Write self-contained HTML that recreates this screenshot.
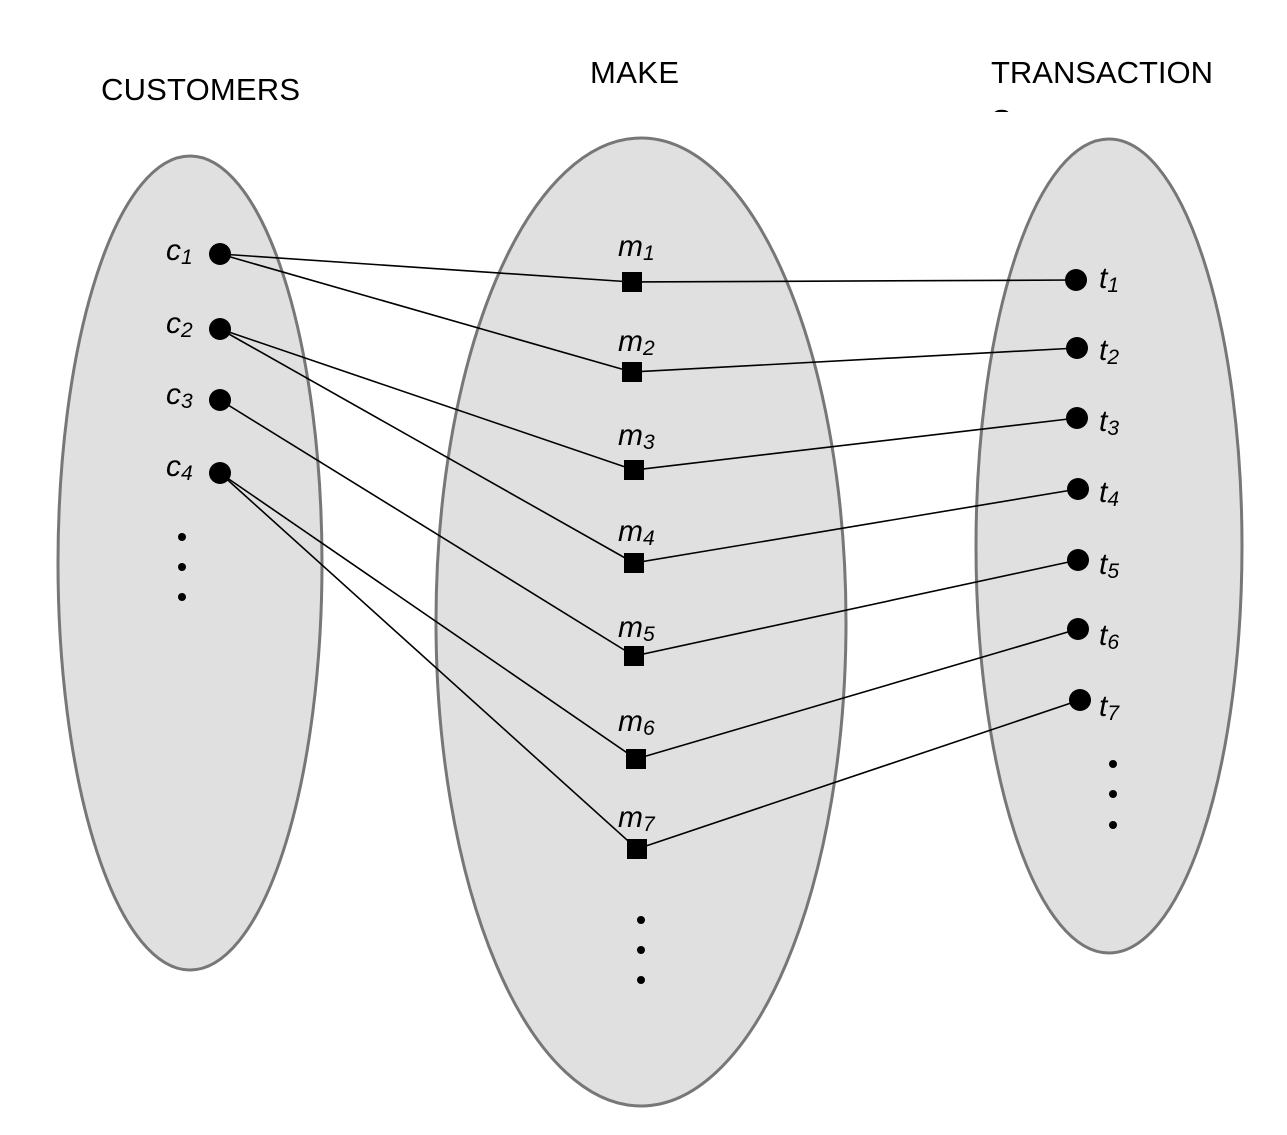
<!DOCTYPE html>
<html><head><style>html,body{margin:0;padding:0;background:#fff}svg{display:block}</style></head><body>
<svg width="1287" height="1135" xmlns="http://www.w3.org/2000/svg" font-family="Liberation Sans, sans-serif">
<defs><clipPath id="c"><rect x="0" y="0" width="1287" height="112"/></clipPath></defs>
<text x="101" y="100" font-size="31" textLength="199">CUSTOMERS</text>
<text x="590" y="83" font-size="31" textLength="89">MAKE</text>
<g clip-path="url(#c)"><text x="991" y="83" font-size="31" textLength="222">TRANSACTION</text><text x="991" y="131" font-size="31">S</text></g>
<g fill="#e0e0e0" stroke="#777" stroke-width="3">
<ellipse cx="190" cy="563" rx="132" ry="407"/>
<ellipse cx="641" cy="622" rx="205" ry="484"/>
<ellipse cx="1109" cy="546" rx="133" ry="407"/>
</g>
<g stroke="#000" stroke-width="1.6">
<line x1="220" y1="254" x2="632" y2="282"/>
<line x1="220" y1="254" x2="632" y2="372"/>
<line x1="220" y1="329" x2="634" y2="470"/>
<line x1="220" y1="329" x2="634" y2="563"/>
<line x1="220" y1="400" x2="634" y2="656"/>
<line x1="220" y1="473" x2="636" y2="759"/>
<line x1="220" y1="473" x2="637" y2="849"/>
<line x1="632" y1="282" x2="1076" y2="280"/>
<line x1="632" y1="372" x2="1077" y2="348"/>
<line x1="634" y1="470" x2="1077" y2="418"/>
<line x1="634" y1="563" x2="1078" y2="489"/>
<line x1="634" y1="656" x2="1078" y2="560"/>
<line x1="636" y1="759" x2="1078" y2="629"/>
<line x1="637" y1="849" x2="1080" y2="700"/>
</g>
<g fill="#000">
<circle cx="220" cy="254" r="11"/><circle cx="220" cy="329" r="11"/><circle cx="220" cy="400" r="11"/><circle cx="220" cy="473" r="11"/>
<rect x="622" y="272" width="20" height="20"/><rect x="622" y="362" width="20" height="20"/><rect x="624" y="460" width="20" height="20"/><rect x="624" y="553" width="20" height="20"/><rect x="624" y="646" width="20" height="20"/><rect x="626" y="749" width="20" height="20"/><rect x="627" y="839" width="20" height="20"/>
<circle cx="1076" cy="280" r="11"/><circle cx="1077" cy="348" r="11"/><circle cx="1077" cy="418" r="11"/><circle cx="1078" cy="489" r="11"/><circle cx="1078" cy="560" r="11"/><circle cx="1078" cy="629" r="11"/><circle cx="1080" cy="700" r="11"/>
<circle cx="182" cy="537" r="4"/><circle cx="182" cy="567" r="4"/><circle cx="182" cy="597" r="4"/>
<circle cx="641" cy="920" r="4"/><circle cx="641" cy="950" r="4"/><circle cx="641" cy="980" r="4"/>
<circle cx="1113" cy="764" r="4"/><circle cx="1113" cy="794" r="4"/><circle cx="1113" cy="825" r="4"/>
</g>
<g font-size="30" font-style="italic">
<text x="166" y="260">c<tspan font-size="21" dy="4">1</tspan></text>
<text x="166" y="333">c<tspan font-size="21" dy="4">2</tspan></text>
<text x="166" y="404">c<tspan font-size="21" dy="4">3</tspan></text>
<text x="166" y="476">c<tspan font-size="21" dy="4">4</tspan></text>
<text x="618" y="256">m<tspan font-size="21" dy="4">1</tspan></text>
<text x="618" y="351">m<tspan font-size="21" dy="4">2</tspan></text>
<text x="618" y="445">m<tspan font-size="21" dy="4">3</tspan></text>
<text x="618" y="541">m<tspan font-size="21" dy="4">4</tspan></text>
<text x="618" y="637">m<tspan font-size="21" dy="4">5</tspan></text>
<text x="618" y="731">m<tspan font-size="21" dy="4">6</tspan></text>
<text x="618" y="827">m<tspan font-size="21" dy="4">7</tspan></text>
<text x="1099" y="288">t<tspan font-size="21" dy="4">1</tspan></text>
<text x="1099" y="360">t<tspan font-size="21" dy="4">2</tspan></text>
<text x="1099" y="431">t<tspan font-size="21" dy="4">3</tspan></text>
<text x="1099" y="502">t<tspan font-size="21" dy="4">4</tspan></text>
<text x="1099" y="574">t<tspan font-size="21" dy="4">5</tspan></text>
<text x="1099" y="645">t<tspan font-size="21" dy="4">6</tspan></text>
<text x="1099" y="716">t<tspan font-size="21" dy="4">7</tspan></text>
</g>
</svg>
</body></html>
